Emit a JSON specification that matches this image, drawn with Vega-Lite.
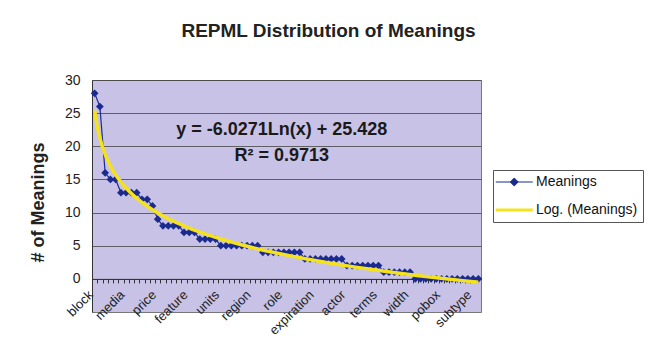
{
  "$schema": "https://vega.github.io/schema/vega-lite/v6.json",
  "width": 389,
  "height": 232,
  "autosize": {"type": "none"},
  "padding": {"left": 92, "top": 80, "right": 171, "bottom": 37},
  "background": "white",
  "title": {
    "text": "REPML Distribution of Meanings",
    "font": "Liberation Sans",
    "fontSize": 19,
    "fontWeight": "bold",
    "color": "#222222",
    "anchor": "middle",
    "dx": 42,
    "offset": 32
  },
  "config": {
    "font": "Liberation Sans",
    "view": {"fill": "#c8c2e6", "stroke": "#777777", "strokeWidth": 1},
    "axisX": {
      "offset": -33.1,
      "labels": false,
      "title": null,
      "grid": false,
      "tickCount": 74,
      "tickOffset": -2.63,
      "tickSize": 4,
      "tickColor": "#333333",
      "domainColor": "#333333"
    },
    "axisY": {
      "titleFont": "Liberation Sans",
      "titleFontSize": 18,
      "titleFontWeight": "bold",
      "titleColor": "#222222",
      "titleX": -54,
      "titleY": 122,
      "titleBaseline": "middle",
      "labelFont": "Liberation Sans",
      "labelFontSize": 14,
      "labelColor": "#222222",
      "labelPadding": 12,
      "tickSize": 0,
      "domainColor": "#333333",
      "gridColor": "#444444",
      "gridWidth": 0.8
    }
  },
  "datasets": {
    "fit": [
      {"eq": "y = -6.0271Ln(x) + 25.428", "r2": "R² = 0.9713"}
    ]
  },
  "data": {
    "values": [
      {"rank": 1, "label": "block", "meanings": 28},
      {"rank": 2, "label": null, "meanings": 26},
      {"rank": 3, "label": null, "meanings": 16},
      {"rank": 4, "label": null, "meanings": 15},
      {"rank": 5, "label": null, "meanings": 15},
      {"rank": 6, "label": null, "meanings": 13},
      {"rank": 7, "label": "media", "meanings": 13},
      {"rank": 8, "label": null, "meanings": 13},
      {"rank": 9, "label": null, "meanings": 13},
      {"rank": 10, "label": null, "meanings": 12},
      {"rank": 11, "label": null, "meanings": 12},
      {"rank": 12, "label": null, "meanings": 11},
      {"rank": 13, "label": "price", "meanings": 9},
      {"rank": 14, "label": null, "meanings": 8},
      {"rank": 15, "label": null, "meanings": 8},
      {"rank": 16, "label": null, "meanings": 8},
      {"rank": 17, "label": null, "meanings": 8},
      {"rank": 18, "label": null, "meanings": 7},
      {"rank": 19, "label": "feature", "meanings": 7},
      {"rank": 20, "label": null, "meanings": 7},
      {"rank": 21, "label": null, "meanings": 6},
      {"rank": 22, "label": null, "meanings": 6},
      {"rank": 23, "label": null, "meanings": 6},
      {"rank": 24, "label": null, "meanings": 6},
      {"rank": 25, "label": "units", "meanings": 5},
      {"rank": 26, "label": null, "meanings": 5},
      {"rank": 27, "label": null, "meanings": 5},
      {"rank": 28, "label": null, "meanings": 5},
      {"rank": 29, "label": null, "meanings": 5},
      {"rank": 30, "label": null, "meanings": 5},
      {"rank": 31, "label": "region", "meanings": 5},
      {"rank": 32, "label": null, "meanings": 5},
      {"rank": 33, "label": null, "meanings": 4},
      {"rank": 34, "label": null, "meanings": 4},
      {"rank": 35, "label": null, "meanings": 4},
      {"rank": 36, "label": null, "meanings": 4},
      {"rank": 37, "label": "role", "meanings": 4},
      {"rank": 38, "label": null, "meanings": 4},
      {"rank": 39, "label": null, "meanings": 4},
      {"rank": 40, "label": null, "meanings": 4},
      {"rank": 41, "label": null, "meanings": 3},
      {"rank": 42, "label": null, "meanings": 3},
      {"rank": 43, "label": "expiration", "meanings": 3},
      {"rank": 44, "label": null, "meanings": 3},
      {"rank": 45, "label": null, "meanings": 3},
      {"rank": 46, "label": null, "meanings": 3},
      {"rank": 47, "label": null, "meanings": 3},
      {"rank": 48, "label": null, "meanings": 3},
      {"rank": 49, "label": "actor", "meanings": 2},
      {"rank": 50, "label": null, "meanings": 2},
      {"rank": 51, "label": null, "meanings": 2},
      {"rank": 52, "label": null, "meanings": 2},
      {"rank": 53, "label": null, "meanings": 2},
      {"rank": 54, "label": null, "meanings": 2},
      {"rank": 55, "label": "terms", "meanings": 2},
      {"rank": 56, "label": null, "meanings": 1},
      {"rank": 57, "label": null, "meanings": 1},
      {"rank": 58, "label": null, "meanings": 1},
      {"rank": 59, "label": null, "meanings": 1},
      {"rank": 60, "label": null, "meanings": 1},
      {"rank": 61, "label": "width", "meanings": 1},
      {"rank": 62, "label": null, "meanings": 0},
      {"rank": 63, "label": null, "meanings": 0},
      {"rank": 64, "label": null, "meanings": 0},
      {"rank": 65, "label": null, "meanings": 0},
      {"rank": 66, "label": null, "meanings": 0},
      {"rank": 67, "label": "pobox", "meanings": 0},
      {"rank": 68, "label": null, "meanings": 0},
      {"rank": 69, "label": null, "meanings": 0},
      {"rank": 70, "label": null, "meanings": 0},
      {"rank": 71, "label": null, "meanings": 0},
      {"rank": 72, "label": null, "meanings": 0},
      {"rank": 73, "label": "subtype", "meanings": 0},
      {"rank": 74, "label": null, "meanings": 0}
    ]
  },
  "layer": [
    {
      "encoding": {
        "x": {
          "field": "rank",
          "type": "quantitative",
          "scale": {"domain": [0.5, 74.5], "nice": false, "zero": false},
          "axis": {"orient": "bottom"}
        },
        "y": {
          "field": "meanings",
          "type": "quantitative",
          "scale": {"domain": [-5, 30], "nice": false, "zero": false},
          "axis": {"values": [0, 5, 10, 15, 20, 25, 30], "title": "# of Meanings"}
        }
      },
      "layer": [
        {
          "mark": {
            "type": "line",
            "strokeWidth": 1.2,
            "point": {"shape": "diamond", "size": 60, "filled": true}
          },
          "encoding": {
            "color": {
              "datum": "Meanings",
              "scale": {"domain": ["Meanings", "Log. (Meanings)"], "range": ["#1b2a8e", "#f4e31c"]},
              "legend": {
                "orient": "none",
                "legendX": 401,
                "legendY": 90,
                "title": null,
                "strokeColor": "#555555",
                "fillColor": "white",
                "padding": 5,
                "labelFont": "Liberation Sans",
                "labelFontSize": 14,
                "labelColor": "#111111",
                "symbolSize": 342,
                "rowPadding": 14,
                "labelOffset": 24,
                "encode": {
                  "symbols": {
                    "update": {
                      "shape": {"signal": "datum.value === 'Meanings' ? 'M-1,0L3,0M0.57,0L1,-0.43L1.43,0L1,0.43Z' : 'M-1,0L3,0'"},
                      "fill": {"signal": "datum.value === 'Meanings' ? '#1b2a8e' : 'transparent'"},
                      "stroke": {"signal": "datum.value === 'Meanings' ? '#1b2a8e' : '#f4e31c'"},
                      "strokeWidth": {"signal": "datum.value === 'Meanings' ? 1 : 3"},
                      "opacity": {"value": 1}
                    }
                  }
                }
              }
            }
          }
        },
        {
          "transform": [
            {"regression": "meanings", "on": "rank", "method": "log"}
          ],
          "mark": {"type": "line", "strokeWidth": 3.5},
          "encoding": {
            "color": {"datum": "Log. (Meanings)"}
          }
        },
        {
          "transform": [{"filter": "datum.label != null"}],
          "mark": {
            "type": "text",
            "angle": -45,
            "align": "right",
            "baseline": "top",
            "dx": -11,
            "fontSize": 13,
            "font": "Liberation Sans",
            "color": "#222222"
          },
          "encoding": {
            "y": {"datum": -0.3},
            "text": {"field": "label"}
          }
        }
      ]
    },
    {
      "data": {"name": "fit"},
      "mark": {
        "type": "text",
        "align": "center",
        "baseline": "middle",
        "fontSize": 18,
        "fontWeight": "bold",
        "font": "Liberation Sans",
        "color": "#1a1a1a"
      },
      "encoding": {
        "x": {"datum": 36.6, "type": "quantitative", "axis": {"orient": "bottom"}},
        "y": {"datum": 22.4, "type": "quantitative", "axis": {"values": [0, 5, 10, 15, 20, 25, 30], "title": "# of Meanings"}},
        "text": {"field": "eq", "type": "nominal"}
      }
    },
    {
      "data": {"name": "fit"},
      "mark": {
        "type": "text",
        "align": "center",
        "baseline": "middle",
        "fontSize": 18,
        "fontWeight": "bold",
        "font": "Liberation Sans",
        "color": "#1a1a1a"
      },
      "encoding": {
        "x": {"datum": 36.6, "type": "quantitative", "axis": {"orient": "bottom"}},
        "y": {"datum": 18.6, "type": "quantitative", "axis": {"values": [0, 5, 10, 15, 20, 25, 30], "title": "# of Meanings"}},
        "text": {"field": "r2", "type": "nominal"}
      }
    }
  ]
}
